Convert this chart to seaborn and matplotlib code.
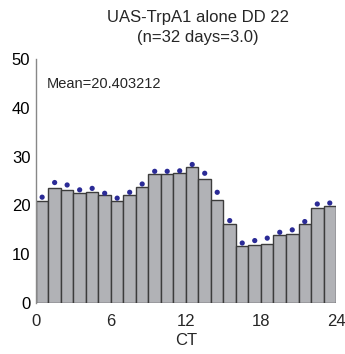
import matplotlib
matplotlib.use("Agg")
import matplotlib.pyplot as plt
import seaborn as sns
import numpy as np
import pandas as pd

hours = list(range(24))
activity = [21.0, 23.5, 23.1, 22.6, 22.7, 22.1, 21.0, 22.1, 23.7, 26.5, 26.4, 26.7,
            27.9, 25.5, 21.2, 16.2, 11.7, 11.9, 12.2, 13.9, 14.1, 16.1, 19.4, 19.9]
upper = [21.7, 24.7, 24.2, 23.2, 23.5, 22.5, 21.5, 22.7, 24.4, 27.0, 27.0, 27.1,
         28.4, 26.6, 22.7, 16.9, 12.3, 12.8, 13.3, 14.5, 15.0, 16.7, 20.3, 20.5]
xticks = [0, 6, 12, 18, 24]
yticks = [0, 10, 20, 30, 40, 50]
title = "UAS-TrpA1 alone DD 22\n(n=32 days=3.0)"
mean_text = "Mean=20.403212"

df = pd.DataFrame({"hour": hours, "activity": activity, "upper": upper})
df["mid"] = df["hour"] + 0.5

sns.set_style("white")
plt.rcParams["font.family"] = ["Liberation Sans", "DejaVu Sans"]

fig = plt.figure(figsize=(3.45, 3.54), dpi=100)
ax = fig.add_axes([0.104, 0.144, 0.870, 0.689])

sns.histplot(data=df, x="mid", weights="activity", bins=24, binrange=(0, 24),
             color="#b1b2b6", edgecolor="#3c3c3c", linewidth=1.0, alpha=1.0, ax=ax)
sns.scatterplot(data=df, x="mid", y="upper", color="#2b2b96", s=14, edgecolor="none",
                ax=ax, zorder=3)

ax.set_xlim(0, 24)
ax.set_ylim(0, 50)
ax.set_xticks(xticks)
ax.set_yticks(yticks)
ax.tick_params(axis="y", direction="in", length=3, width=0.8, colors="#888888",
               labelcolor="black", labelsize=12, pad=4)
ax.tick_params(axis="x", length=0, labelsize=12, pad=8)
for s in ["top", "right", "bottom"]:
    ax.spines[s].set_visible(False)
ax.spines["left"].set_color("#888888")
ax.spines["left"].set_linewidth(1.0)
ax.set_xlabel("CT", fontsize=12, labelpad=3)
ax.set_ylabel("")
ax.set_title(title, fontsize=12, pad=12, x=0.54, linespacing=1.45)
ax.text(0.9, 45, mean_text, fontsize=10.5, va="center", ha="left")

fig.savefig("out.png", dpi=100)
